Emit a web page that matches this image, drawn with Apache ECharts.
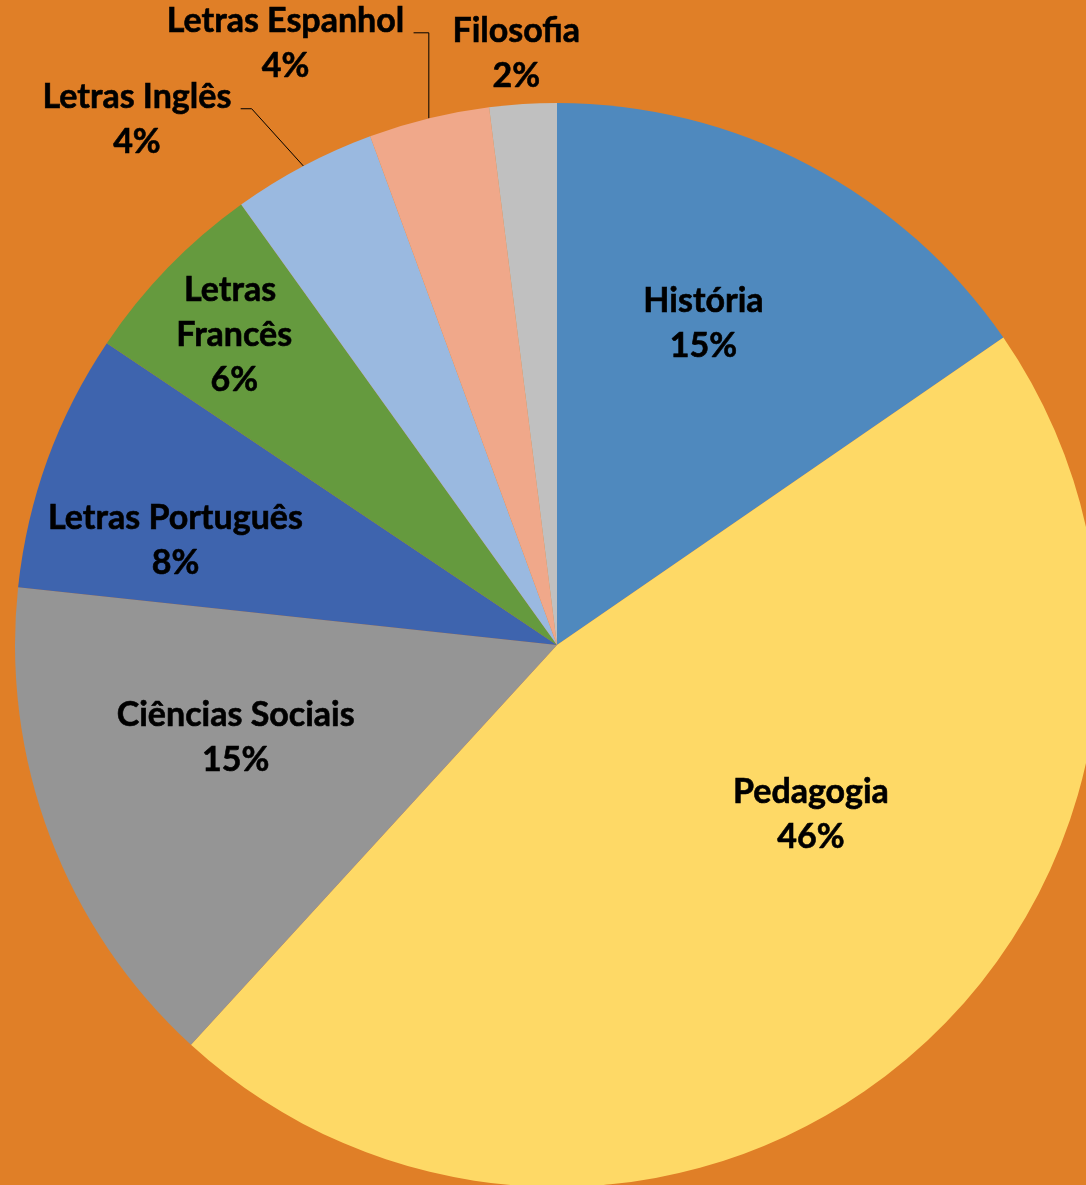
<!DOCTYPE html>
<html>
<head>
<meta charset="utf-8">
<script src="https://cdn.jsdelivr.net/npm/echarts@6/dist/echarts.min.js"></script>
<style>
  html, body { margin: 0; padding: 0; background: #E07F27; }
  #chart { width: 1086px; height: 1185px; }
</style>
</head>
<body>
<div id="chart"></div>
<script>
    // cursos - participação (%)
    var categories = ['História', 'Pedagogia', 'Ciências Sociais', 'Letras Português', 'Letras Francês', 'Letras Inglês', 'Letras Espanhol', 'Filosofia'];
    var shares = [15.4, 46.4, 14.9, 7.7, 5.7, 4.3, 3.6, 2.0];

    var sliceColors = ['#4F89BE', '#FED966', '#959595', '#3E64AE', '#659A3E', '#9AB9E0', '#F0A88A', '#C0C0C0'];
    // onde fica o rótulo: dentro ou fora da fatia
    var labelPlace = ['inside', 'inside', 'inside', 'inside', 'inside', 'outside', 'outside', 'outside'];
    // ajuste fino dos rótulos (px) a partir da posição padrão
    var labelNudge = [[19, -79], [74, -37], [-65, -4], [-124, -11], [-126, -119], [-45, -33], [-1, -60], [78, -36]];
    // tipo de linha guia: 'diag' / 'vert' / null
    var guideKind = [null, null, null, null, null, 'diag', 'vert', null];

    var chart = echarts.init(document.getElementById('chart'));

    var pieData = categories.map(function (name, i) {
        var item = {
            name: name,
            value: shares[i],
            itemStyle: { color: sliceColors[i] },
            label: { position: labelPlace[i] },
            labelLine: { show: guideKind[i] != null }
        };
        if (name === 'Letras Francês') {
            item.label.width = 140;
            item.label.overflow = 'break';
        }
        return item;
    });

    chart.setOption({
        backgroundColor: '#E07F27',
        animation: false,
        series: [
            {
                type: 'pie',
                center: [557, 645],
                radius: 542,
                startAngle: 90,
                clockwise: true,
                avoidLabelOverlap: false,
                itemStyle: { borderWidth: 0 },
                label: {
                    color: '#000',
                    fontFamily: 'Lato',
                    fontWeight: 'bold',
                    fontSize: 34,
                    lineHeight: 45,
                    textBorderColor: '#000',
                    textBorderWidth: 0.6,
                    formatter: function (p) {
                        return p.name + '\n' + Math.round(p.percent) + '%';
                    }
                },
                labelLine: {
                    length: 15,
                    length2: 15,
                    lineStyle: { color: '#000', width: 1 }
                },
                labelLayout: function (p) {
                    var k = labelNudge[p.dataIndex];
                    var r = p.labelRect;
                    var cx = r.x + r.width / 2 + k[0];
                    var cy = r.y + r.height / 2 + k[1];
                    var res = { x: cx, y: cy, align: 'center', verticalAlign: 'middle' };
                    var kind = guideKind[p.dataIndex];
                    var pts = p.labelLinePoints;
                    if (kind && pts) {
                        var edge = pts[0];
                        var ex = cx + r.width / 2 + 9;
                        var ey = cy - 11;
                        var elbow = kind === 'vert' ? [edge[0], ey] : [ex + 11, ey];
                        res.labelLinePoints = [edge, elbow, [ex, ey]];
                    }
                    return res;
                },
                data: pieData
            }
        ]
    });
</script>
</body>
</html>
